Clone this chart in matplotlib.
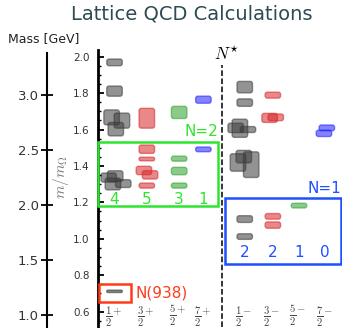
import numpy as np
import matplotlib
matplotlib.use("Agg")
import matplotlib.pyplot as plt
from matplotlib.patches import FancyBboxPatch, Rectangle

plt.rcParams['mathtext.fontset'] = 'cm'

# Datos: etiquetas de espín-paridad y posición de cada columna
spin_labels = [r'$\frac{1}{2}^{+}$', r'$\frac{3}{2}^{+}$', r'$\frac{5}{2}^{+}$', r'$\frac{7}{2}^{+}$',
               r'$\frac{1}{2}^{-}$', r'$\frac{3}{2}^{-}$', r'$\frac{5}{2}^{-}$', r'$\frac{7}{2}^{-}$']
col_pos = [0.0, 1.0, 2.0, 2.75, 4.03, 4.9, 5.71, 6.52]
spin_colors = ['#3a3a3a', '#d62728', '#2ca02c', '#2020ff'] * 2

# Niveles del retículo: columna, m/m_Omega, altura (error), desplazamiento
lvl_col = [0, 0, 0, 0, 0, 0, 0, 0, 0,
           1, 1, 1, 1, 1, 1,
           2, 2, 2, 2,
           3, 3,
           4, 4, 4, 4, 4, 4, 4, 4, 4, 4,
           5, 5, 5, 5, 5,
           6,
           7, 7]
lvl_mass = [1.969, 1.811, 1.667, 1.649, 1.602, 1.336, 1.344, 1.301, 1.303,
            1.662, 1.492, 1.438, 1.375, 1.351, 1.292,
            1.694, 1.440, 1.372, 1.292,
            1.764, 1.491,
            1.833, 1.748, 1.609, 1.607, 1.600, 1.419, 1.451, 1.407, 1.108, 1.012,
            1.789, 1.664, 1.667, 1.123, 1.075,
            1.182,
            1.609, 1.579]
lvl_err = [0.037, 0.056, 0.082, 0.083, 0.074, 0.050, 0.059, 0.065, 0.043,
           0.109, 0.046, 0.020, 0.046, 0.046, 0.028,
           0.067, 0.028, 0.041, 0.028,
           0.039, 0.026,
           0.063, 0.041, 0.052, 0.100, 0.033, 0.096, 0.069, 0.141, 0.037, 0.031,
           0.033, 0.050, 0.037, 0.031, 0.035,
           0.026,
           0.032, 0.035]
lvl_dx = [0, 0, -0.09, 0.23, 0.04, -0.18, 0.02, -0.05, 0.27,
          0, 0, 0, -0.09, 0.10, 0,
          0, 0, 0, 0,
          0, 0,
          0, 0, -0.28, -0.15, 0.10, -0.21, -0.03, 0.20, 0, 0,
          0, -0.10, 0.09, 0, 0,
          0,
          0.05, -0.04]

nucleon_mass = 0.711
nucleon_err = 0.013

n2_counts = ['4', '5', '3', '1']
n1_counts = ['2', '2', '1', '0']

mass_ticks = [1.0, 1.5, 2.0, 2.5, 3.0]
ratio_ticks = [0.6, 0.8, 1.0, 1.2, 1.4, 1.6, 1.8, 2.0]

W, H = 342, 328
fig = plt.figure(figsize=(W / 100, H / 100), dpi=100)

# Eje principal (m/m_Omega)
ax = fig.add_axes([98 / W, 1 / H, (W - 98) / W, 277 / H])
ax.set_xlim(-0.511, 7.04)
ax.set_ylim(0.515, 2.037)
for s in ['top', 'right', 'bottom']:
    ax.spines[s].set_visible(False)
ax.spines['left'].set_linewidth(2)
ax.set_xticks([])
ax.set_yticks(ratio_ticks)
ax.set_yticklabels([f'{t:.1f}' for t in ratio_ticks], fontsize=7.5, color='#333333')
ax.set_yticks(np.arange(0.55, 2.04, 0.05), minor=True)
ax.tick_params(axis='y', which='major', direction='in', length=4, width=1.3, pad=6)
ax.tick_params(axis='y', which='minor', direction='in', length=2.5, width=1.0)

asp = 0.18
box_w = 0.48
for c, m, e, dx in zip(lvl_col, lvl_mass, lvl_err, lvl_dx):
    x = col_pos[c] + dx
    col = spin_colors[c]
    r = min(0.07, e / asp / 2 * 0.9)
    p = FancyBboxPatch((x - box_w / 2, m - e / 2), box_w, e,
                       boxstyle=f"round,pad=0,rounding_size={r}",
                       mutation_aspect=asp, facecolor=col, edgecolor=col,
                       alpha=0.55, linewidth=1.0)
    ax.add_patch(p)

# Nucleón
p = FancyBboxPatch((col_pos[0] - box_w / 2, nucleon_mass - nucleon_err / 2), box_w, nucleon_err,
                   boxstyle=f"round,pad=0,rounding_size={nucleon_err / asp / 2 * 0.9}",
                   mutation_aspect=asp, facecolor='#3a3a3a', edgecolor='#3a3a3a',
                   alpha=0.6, linewidth=1.0)
ax.add_patch(p)

# Etiquetas de espín dentro del eje
for x, lab in zip(col_pos, spin_labels):
    ax.text(x - 0.03, 0.574, lab, ha='center', va='center', fontsize=11, color='#444444')

# Línea N*
ax.plot([3.33, 3.33], [0.515, 1.954], color='black', linestyle='--', linewidth=1.1)
ax.text(3.46, 2.009, r'$N^{\star}$', ha='center', va='center', fontsize=12)

# Caja N=2
green = '#2ee52e'
ax.add_patch(Rectangle((-0.52, 1.178), 3.195 + 0.52, 1.533 - 1.178, fill=False,
                       edgecolor=green, linewidth=1.8, clip_on=False, zorder=5))
ax.text(3.195, 1.587, 'N=2', ha='right', va='center', fontsize=11, color=green)
for x, n in zip(col_pos[:4], n2_counts):
    ax.text(x, 1.215, n, ha='center', va='center', fontsize=11, color=green)

# Caja N=1
blue = '#1f4fff'
ax.add_patch(Rectangle((3.42, 0.863), 7.01 - 3.42, 1.224 - 0.863, fill=False,
                       edgecolor=blue, linewidth=1.8, clip_on=False, zorder=5))
ax.text(7.01, 1.278, 'N=1', ha='right', va='center', fontsize=11, color=blue)
for x, n in zip(col_pos[4:], n1_counts):
    ax.text(x, 0.926, n, ha='center', va='center', fontsize=11, color=blue)

# Caja N(938)
red = '#ff3a1a'
ax.add_patch(Rectangle((-0.48, 0.652), 0.991, 0.098, fill=False,
                       edgecolor=red, linewidth=1.8, clip_on=False, zorder=5))
ax.text(0.635, 0.704, 'N(938)', ha='left', va='center', fontsize=11, color=red)

# Eje de masa en GeV
ax2 = fig.add_axes([46.7 / W, 1 / H, 0.001, 277 / H], facecolor='none')
ax2.set_ylim(0.889, 3.407)
for s in ['top', 'right', 'bottom']:
    ax2.spines[s].set_visible(False)
ax2.spines['left'].set_linewidth(1.5)
ax2.spines['left'].set_bounds(0.889, 3.383)
ax2.set_xticks([])
ax2.set_yticks(mass_ticks)
ax2.set_yticklabels([f'{t:.1f}' for t in mass_ticks], fontsize=9.5, color='#333333')
ax2.tick_params(axis='y', direction='inout', length=9, width=1.3, pad=1)

fig.text(44 / W, 1 - 39 / H, 'Mass [GeV]', ha='center', va='center', fontsize=9, color='#222222')
fig.text(61 / W, 1 - 177 / H, r'$m/m_{\Omega}$', ha='center', va='center', rotation=90,
         fontsize=11, color='#777777')
fig.text(192 / W, 1 - 14.5 / H, 'Lattice QCD Calculations', ha='center', va='center',
         fontsize=14, color='#2e4a52')

fig.savefig('out.png', dpi=100)
